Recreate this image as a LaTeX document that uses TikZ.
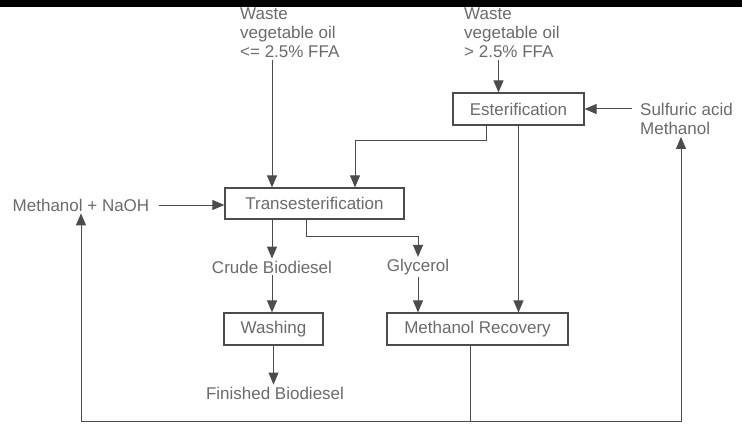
\documentclass[tikz,border=0pt]{standalone}
\usepackage{fontspec}
\setmainfont{Liberation Sans}
\usetikzlibrary{arrows.meta}
\definecolor{linegray}{HTML}{4C4C4C}
\definecolor{textgray}{HTML}{6A6A6A}
\begin{document}
\begin{tikzpicture}[x=1pt, y=-1pt,
	font=\fontsize{17}{19}\selectfont,
	unit/.style={draw=linegray, line width=1.2pt, minimum height=32pt, inner sep=0pt, text=textgray},
	txt/.style={inner sep=2pt, align=left, text=textgray},
	stream/.style={draw=linegray, line width=1pt, -{Triangle[length=12pt,width=10pt]}},
	pipe/.style={draw=linegray, line width=1pt}]
	\useasboundingbox (0,0) rectangle (742,425);
	\fill[black] (0,0) rectangle (742,7);
	% feeds
	\node[txt, anchor=west] (oillow) at (238,33) {Waste\\vegetable oil\\<= 2.5\% FFA};
	\node[txt, anchor=west] (oilhigh) at (462,33) {Waste\\vegetable oil\\> 2.5\% FFA};
	\node[txt, anchor=west] (acid) at (638,119) {Sulfuric acid\\Methanol};
	\node[txt] (naoh) at (81,205) {Methanol + NaOH};
	% process units
	\node[unit, minimum width=131pt] (ester) at (518.5,109) {Esterification};
	\node[unit, minimum width=179pt, minimum height=31pt] (trans) at (314.5,203.5) {Transesterification};
	\node[unit, minimum width=99pt] (wash) at (273.5,329) {Washing};
	\node[unit, minimum width=181pt] (recov) at (477.5,329) {Methanol Recovery};
	% products
	\node[txt] (crude) at (272,267) {Crude Biodiesel};
	\node[txt] (glyc) at (418,267) {Glycerol};
	\node[txt] (final) at (275,393) {Finished Biodiesel};
	% connectors
	\draw[stream] (oillow.south -| crude.north) -- (crude.north |- trans.north);
	\draw[stream] ([xshift=-20pt]ester.north |- oilhigh.south) -- ([xshift=-20pt]ester.north);
	\draw[stream] ([xshift=-6pt]ester.east -| acid.west) -- (ester.east);
	\draw[stream] ([xshift=8pt]naoh.east) -- (naoh.east -| trans.west);
	\draw[stream] ([xshift=-32.5pt]ester.south) -- ++(0,15) -| ([xshift=40.5pt]trans.north);
	\draw[stream] (ester.south) -- (ester.south |- recov.north);
	\draw[stream] (trans.south -| crude.north) -- (crude.north);
	\draw[stream] ([xshift=-8.5pt]trans.south) -- ++(0,17) -| (glyc.north);
	\draw[stream] (crude.south) -- (crude.south |- wash.north);
	\draw[stream] (glyc.south) -- (glyc.south |- recov.north);
	\draw[stream] (wash.south) -- (wash.south |- final.north);
	% methanol return
	\coordinate (split) at ([xshift=-7.5pt]recov.south |- 0,421);
	\coordinate (retR) at (681,421);
	\draw[pipe] ([xshift=-7.5pt]recov.south) -- (split);
	\draw[stream] (split) -| (naoh.south);
	\draw[stream] (split) -- (retR) -- (retR |- acid.south);
\end{tikzpicture}
\end{document}
